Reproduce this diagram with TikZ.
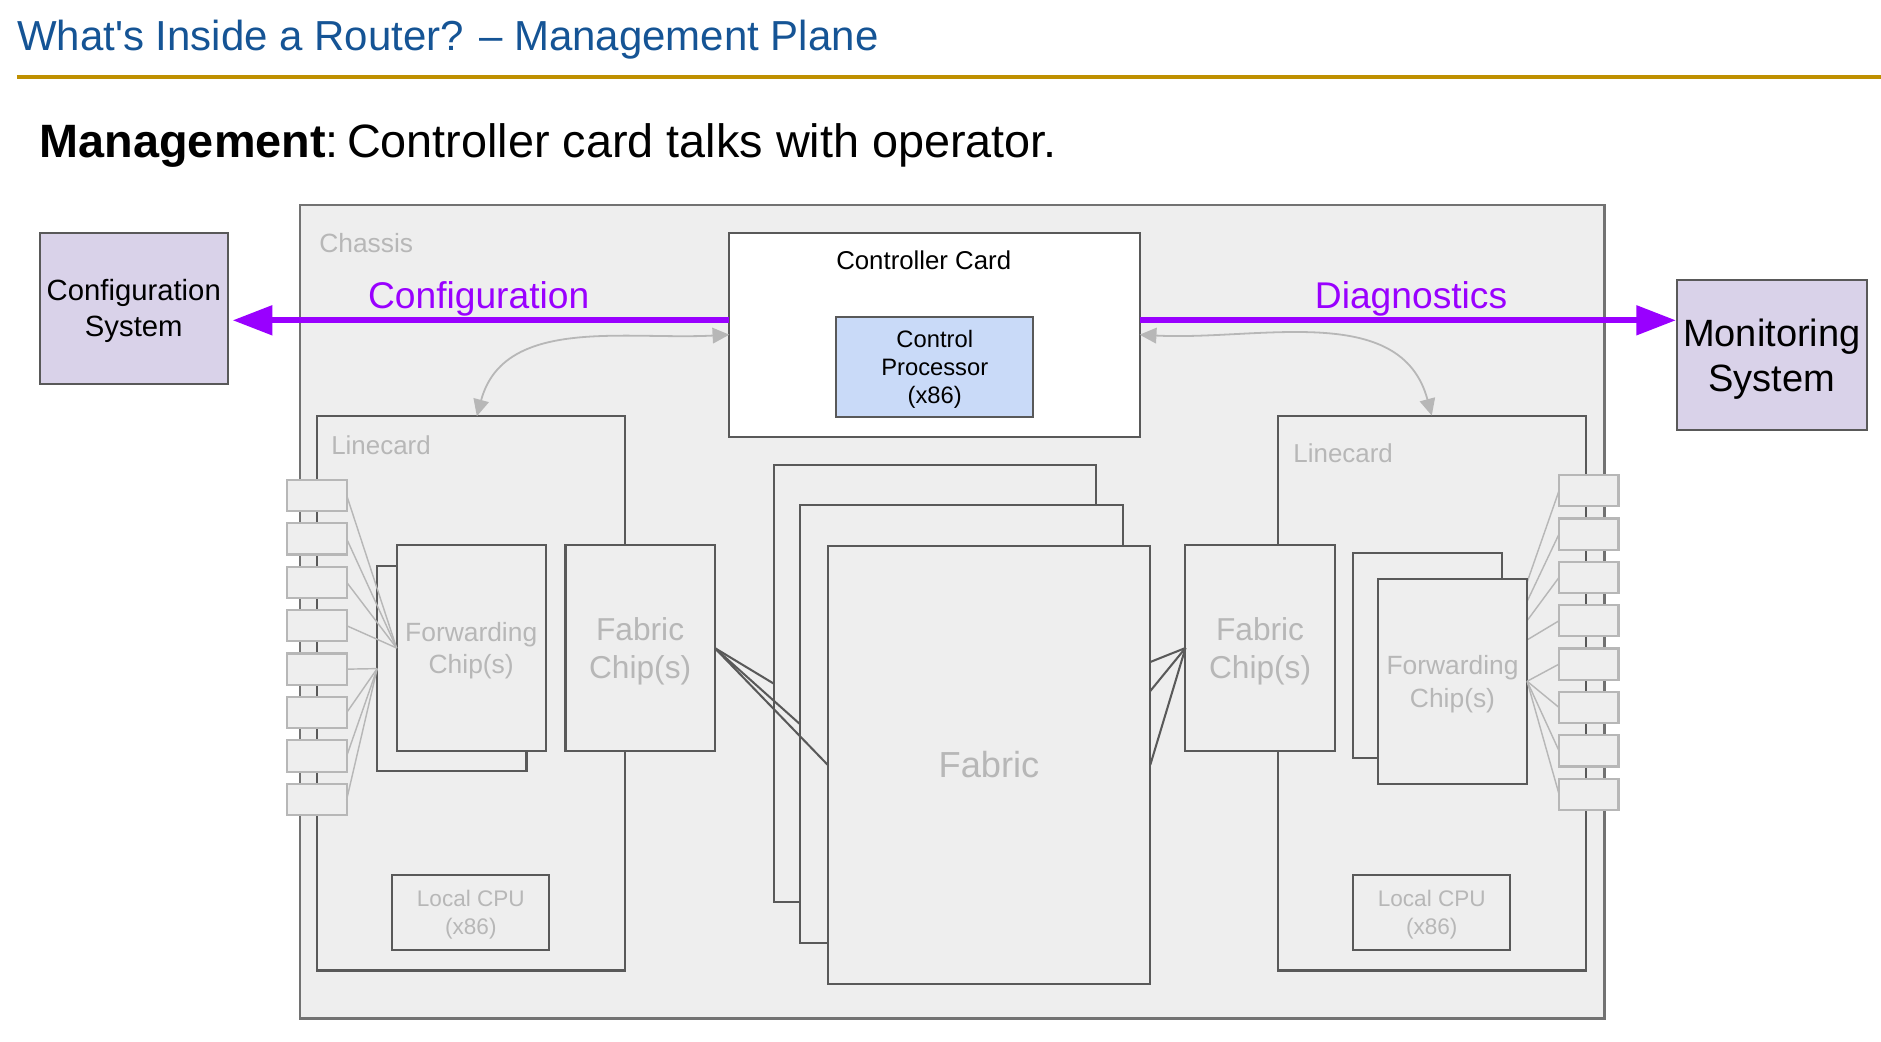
\documentclass[tikz,border=0pt]{standalone}
\usepackage{fontspec}
\setmainfont{Liberation Sans}
\usetikzlibrary{arrows.meta, calc}

\definecolor{titleblue}{RGB}{21,84,149}
\definecolor{rulegold}{HTML}{BF9000}
\definecolor{mgmtpurple}{HTML}{9900FF}
\definecolor{lavender}{HTML}{D9D2E9}
\definecolor{cpublue}{HTML}{C9DAF8}
\definecolor{panel}{HTML}{EEEEEE}
\definecolor{edge}{HTML}{595959}
\definecolor{faint}{HTML}{B7B7B7}

\begin{document}
\begin{tikzpicture}[x=1pt, y=-1pt,
    sized/.style 2 args={minimum width=#1pt, minimum height=#2pt},
    card/.style={draw=edge, line width=1.7pt, fill=panel, inner sep=0pt, outer sep=0pt, text depth=0pt},
    port/.style={draw=faint, line width=1.8pt, fill=panel, inner sep=0pt, outer sep=0pt,
        minimum width=49.6pt, minimum height=26pt},
    host/.style={card, fill=lavender, align=center},
    lbl/.style={text=faint, inner sep=0pt, align=center},
    wire/.style={faint, line width=1.2pt},
    link/.style={edge, line width=1.7pt},
    mgmt/.style={mgmtpurple, line width=4.7pt, -{Triangle[length=33pt,width=24pt]}},
    sync/.style={faint, line width=1.5pt,
        {Triangle[length=14pt,width=13pt]}-{Triangle[length=14pt,width=13pt]}}]
    \useasboundingbox (0,0) rectangle (1568,868);

    % heading
    \node[anchor=west, inner sep=0pt, text=titleblue, font=\fontsize{35}{42}\selectfont]
        (title) at (14,33) {What\textquotesingle s Inside a Router? -- Management Plane};
    \draw[rulegold, line width=3pt] (14,64) -- (1568,64);
    \node[anchor=west, inner sep=0pt, font=\fontsize{39}{47}\selectfont]
        (lead) at (33,121) {\textbf{Management}:\hspace{7pt}Controller card talks with operator.};

    % chassis and outside systems
    \node[card, draw=edge!85, sized={1087.5}{678}] (chassis) at (793.75,510) {};
    \node[lbl, anchor=west, font=\fontsize{22}{26}\selectfont] at (266,203) {Chassis};
    \node[host, sized={157}{126}, font=\fontsize{24.4}{30}\selectfont]
        (cfg) at (111.5,257) {Configuration\\System};
    \node[host, sized={158}{125.6}, font=\fontsize{31.7}{37}\selectfont]
        (mon) at (1477,296) {Monitoring\\System};

    % controller card
    \node[card, fill=white, sized={342}{170}] (ctrl) at (779,279) {};
    \node[inner sep=0pt, font=\fontsize{21.5}{26}\selectfont] at (770,217) {Controller Card};
    \node[card, fill=cpublue, sized={164}{83}, align=center, font=\fontsize{19.8}{23.5}\selectfont]
        (cp) at (779.2,305.8) {Control\\Processor\\(x86)};

    % linecards
    \node[card, sized={257}{462}] (lcL) at (392.5,578) {};
    \node[card, sized={257}{462.6}] (lcR) at (1193.5,577.7) {};
    \node[lbl, anchor=west, font=\fontsize{21.6}{26}\selectfont] at (276,371) {Linecard};
    \node[lbl, anchor=west, font=\fontsize{21.6}{26}\selectfont] at (1078,378) {Linecard};
    \node[card, lbl, draw=edge, sized={131}{63}, font=\fontsize{18.8}{23}\selectfont]
        (cpuL) at (392.5,760.5) {Local CPU\\(x86)};
    \node[card, lbl, draw=edge, sized={131}{63}, font=\fontsize{18.8}{23}\selectfont]
        (cpuR) at (1193.5,760.5) {Local CPU\\(x86)};

    % ports
    \foreach \i in {1,...,8} {
        \node[port] (pL\i) at (264.2,{376.8+36.2*\i}) {};
        \node[port] (pR\i) at (1324.4,{372.85+36.15*\i}) {};
    }

    % forwarding chips
    \node[card, sized={124.5}{171.3}] (fwdLb) at (376.65,557.35) {};
    \node[card, sized={124.4}{171}, lbl, draw=edge, font=\fontsize{22}{27}\selectfont]
        (fwdL) at (392.8,540.15) {Forwarding\\Chip(s)};
    \node[card, sized={124}{171}] (fwdRb) at (1189.75,546.15) {};
    \foreach \i in {1,...,4}
        \draw[wire] (pR\i.west) -- (fwdRb.east);
    \node[card, sized={124.4}{171}, lbl, draw=edge, font=\fontsize{22}{27}\selectfont]
        (fwdR) at (1210.8,567.9) {Forwarding\\Chip(s)};
    \foreach \i in {1,...,4}
        \draw[wire] (pL\i.east) -- (fwdL.west);
    \foreach \i in {5,...,8} {
        \draw[wire] (pL\i.east) -- (fwdLb.west);
        \draw[wire] (pR\i.west) -- (fwdR.east);
    }

    % fabric chips
    \node[card, sized={124.4}{171}, lbl, draw=edge, font=\fontsize{26.4}{31}\selectfont]
        (fcL) at (533.6,540.15) {Fabric\\Chip(s)};
    \node[card, sized={124.4}{171}, lbl, draw=edge, font=\fontsize{26.4}{31}\selectfont]
        (fcR) at (1050.4,540.15) {Fabric\\Chip(s)};

    % fabric
    \node[card, sized={269}{365}] (fab1) at (779.3,569.75) {};
    \node[card, sized={269}{365}] (fab2) at (801.6,603.85) {};
    \foreach \f in {fab1, fab2} {
        \draw[link] (fcL.east) -- (\f.west);
        \draw[link] (fcR.west) -- (\f.east);
    }
    \node[card, sized={269}{365}, lbl, draw=edge, font=\fontsize{30.2}{36}\selectfont]
        (fab3) at (824.4,637.5) {Fabric};
    \draw[link] (fcL.east) -- (fab3.west);
    \draw[link] (fcR.west) -- (fab3.east);

    % controller to linecards
    \draw[sync] (ctrl.west) to[out=183, in=75] ([xshift=5pt]lcL.north);
    \draw[sync] (ctrl.east) to[out=-3, in=105] (lcR.north);

    % management traffic
    \coordinate (cfgOut) at ($(ctrl.west)+(0,-12)$);
    \coordinate (monOut) at ($(ctrl.east)+(0,-12)$);
    \draw[mgmt, shorten >=4pt] (cfgOut) -- (cfgOut -| cfg.east)
        node[midway, above=1pt, inner sep=0pt, text=mgmtpurple, font=\fontsize{31}{37}\selectfont] {Configuration};
    \draw[mgmt, shorten >=1pt] (monOut) -- (monOut -| mon.west)
        node[pos=.505, above=1pt, inner sep=0pt, text=mgmtpurple, font=\fontsize{31}{37}\selectfont] {Diagnostics};
\end{tikzpicture}
\end{document}
